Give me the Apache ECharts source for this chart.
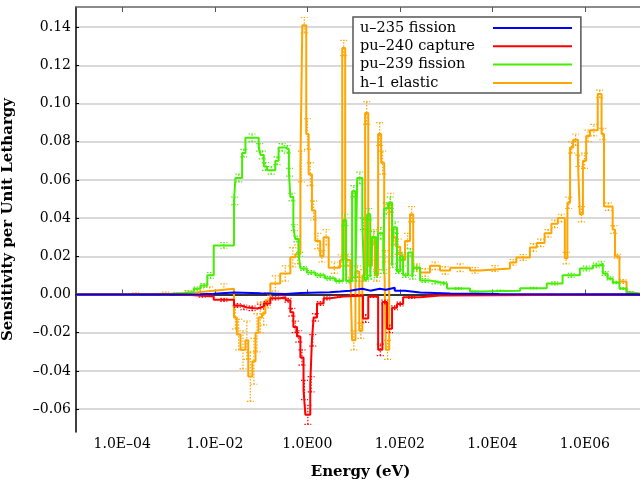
<!DOCTYPE html>
<html>
<head>
<meta charset="utf-8">
<script src="https://cdn.jsdelivr.net/npm/echarts@6/dist/echarts.min.js"></script>
<style>
  html, body { margin: 0; padding: 0; background: #fff; }
  #chart { width: 640px; height: 481px; }
</style>
</head>
<body>
<div id="chart"></div>
<script>
// tick positions
const xTicks = [1e-4, 1e-2, 1, 1e2, 1e4, 1e6];
const yTicks = [-0.06, -0.04, -0.02, 0, 0.02, 0.04, 0.06, 0.08, 0.10, 0.12, 0.14];

// group lower bounds (eV) and sensitivity per unit lethargy
const blueE = [1e-5, 4.1e-4, 4.9e-3, 0.0095, 0.026, 0.098, 0.34, 0.71, 3.1, 5.1,
  8.5, 11, 15.5, 23, 37, 50, 78, 130, 275, 1230, 14000, 1.07e7, 2e7];
const blueS = [0, 0.0001, 0.0004, 0.001, 0.0006, 0.0003, 0.0008, 0.0012, 0.0015, 0.002,
  0.0025, 0.003, 0.002, 0.003, 0.0025, 0.0035, 0.002, 0.001, 0.0005, 0.0002, 0.0001, 0, 0];

const redE = [1e-5, 1.1e-3, 3.0e-3, 0.0095, 0.026, 0.036, 0.050, 0.082, 0.115, 0.159,
  0.26, 0.34, 0.43, 0.50, 0.60, 0.71, 0.83, 0.91, 1.16, 1.26,
  1.37, 1.62, 2.25, 3.1, 6.6, 16, 20.8, 34, 42, 53,
  68, 87, 118, 275, 740, 2e7];
const redS = [0, -0.0003, -0.001, -0.0028, -0.0058, -0.0068, -0.0073, -0.0063, -0.0047, -0.002,
  -0.0014, -0.003, -0.0093, -0.017, -0.022, -0.033, -0.050, -0.063, -0.047, -0.024,
  -0.012, -0.0047, -0.002, -0.001, -0.0005, -0.0126, -0.001, -0.029, -0.004, -0.018,
  -0.007, -0.005, -0.0015, -0.0005, 0, 0];
const redErr = [0, 0.0002, 0.0004, 0.0008, 0.001, 0.0012, 0.0012, 0.0012, 0.001, 0.0008,
  0.0008, 0.001, 0.002, 0.003, 0.003, 0.004, 0.005, 0.005, 0.004, 0.003,
  0.002, 0.001, 0.0008, 0.0005, 0.0003, 0.002, 0.0005, 0.003, 0.001, 0.002,
  0.001, 0.001, 0.0005, 0.0003, 0, 0];

const greenE = [1e-5, 4.1e-4, 1.1e-3, 2.1e-3, 3.5e-3, 4.9e-3, 6.9e-3, 0.0095, 0.026, 0.028,
  0.039, 0.046, 0.089, 0.098, 0.115, 0.135, 0.204, 0.24, 0.34, 0.40,
  0.43, 0.50, 0.55, 0.65, 0.71, 0.98, 1.5, 2.4, 4.0, 6.0,
  6.9, 9.3, 11, 12, 15.5, 17, 19.7, 23, 25, 31,
  34, 44, 46, 56, 68, 72, 87, 102, 118, 151,
  186, 195, 275, 450, 740, 1050, 3300, 5400, 40000, 1.5e5,
  3.3e5, 7.8e5, 1.48e6, 2.1e6, 2.45e6, 3.1e6, 4.0e6, 5.6e6, 8.0e6, 1.07e7, 2e7];
const greenS = [0, 0.0003, 0.0006, 0.0012, 0.003, 0.0047, 0.010, 0.0257, 0.049, 0.061,
  0.074, 0.082, 0.077, 0.073, 0.067, 0.065, 0.070, 0.077, 0.076, 0.064,
  0.051, 0.035, 0.029, 0.021, 0.0136, 0.0115, 0.010, 0.0085, 0.007, 0.039,
  0.007, 0.054, 0.008, 0.061, 0.037, 0.008, 0.042, 0.009, 0.030, 0.010,
  0.032, 0.012, 0.045, 0.048, 0.015, 0.035, 0.012, 0.020, 0.010, 0.022,
  0.009, 0.014, 0.0073, 0.0063, 0.0058, 0.0031, 0.0016, 0.002, 0.0033, 0.0058,
  0.010, 0.0136, 0.0152, 0.0162, 0.011, 0.0084, 0.0063, 0.0031, 0.001, 0, 0];
const greenErr = [0, 0.0002, 0.0003, 0.0005, 0.0008, 0.001, 0.0015, 0.0015, 0.002, 0.002,
  0.002, 0.002, 0.002, 0.002, 0.002, 0.002, 0.002, 0.002, 0.002, 0.002,
  0.002, 0.0015, 0.0015, 0.001, 0.001, 0.001, 0.001, 0.001, 0.001, 0.003,
  0.001, 0.003, 0.001, 0.003, 0.003, 0.001, 0.003, 0.001, 0.003, 0.001,
  0.003, 0.001, 0.003, 0.003, 0.001, 0.003, 0.001, 0.002, 0.001, 0.002,
  0.001, 0.001, 0.001, 0.0008, 0.0008, 0.0005, 0.0003, 0.0003, 0.0004, 0.0008,
  0.001, 0.0012, 0.0012, 0.0012, 0.001, 0.0008, 0.0006, 0.0004, 0.0002, 0, 0];

const orangeE = [1e-5, 9.3e-5, 4.1e-4, 1.8e-3, 3.8e-3, 6.3e-3, 0.0095, 0.026, 0.030, 0.036,
  0.046, 0.053, 0.065, 0.076, 0.088, 0.105, 0.124, 0.159, 0.26, 0.43,
  0.55, 0.71, 0.78, 0.95, 1.07, 1.26, 1.49, 1.9, 2.25, 2.9,
  5.1, 5.7, 6.6, 8.5, 9.3, 11, 13.3, 15.5, 17.8, 20.8,
  25, 29, 34, 39.5, 46, 50, 59, 68, 83, 102,
  130, 166, 195, 275, 450, 740, 1230, 3300, 5400, 24000,
  33000, 65000, 91000, 1.35e5, 1.9e5, 2.6e5, 3.7e5, 4.2e5, 4.8e5, 5.6e5,
  7.1e5, 7.8e5, 9.1e5, 1.07e6, 1.29e6, 1.9e6, 2.3e6, 2.6e6, 4.0e6, 4.5e6,
  5.6e6, 8.0e6, 1.07e7, 2e7];
const orangeS = [0, 0.0003, 0.0005, 0.001, 0.0015, 0.002, 0.003, -0.012, -0.021, -0.029,
  -0.024, -0.043, -0.035, -0.020, -0.012, -0.010, -0.003, 0.0057, 0.011, 0.0195,
  0.021, 0.067, 0.141, 0.084, 0.063, 0.044, 0.028, 0.020, 0.030, 0.014,
  0.0178, 0.129, 0.018, 0.012, -0.024, 0.012, -0.019, 0.010, 0.095, 0.015,
  0.030, 0.010, 0.084, 0.069, 0.020, -0.029, 0.048, 0.030, 0.025, 0.018,
  0.028, 0.042, 0.014, 0.0115, 0.015, 0.0126, 0.014, 0.0126, 0.0136, 0.0168,
  0.0194, 0.0246, 0.027, 0.032, 0.037, 0.040, 0.019, 0.048, 0.077, 0.081,
  0.070, 0.042, 0.070, 0.083, 0.086, 0.105, 0.084, 0.046, 0.034, 0.020,
  0.0068, 0.001, 0, 0];
const orangeErr = [0, 0.0005, 0.0008, 0.001, 0.0015, 0.002, 0.0025, 0.006, 0.008, 0.010,
  0.010, 0.013, 0.012, 0.010, 0.008, 0.006, 0.004, 0.004, 0.004, 0.005,
  0.005, 0.008, 0.004, 0.008, 0.006, 0.005, 0.004, 0.003, 0.004, 0.003,
  0.003, 0.004, 0.003, 0.003, 0.005, 0.003, 0.004, 0.003, 0.006, 0.003,
  0.004, 0.003, 0.006, 0.006, 0.003, 0.005, 0.005, 0.004, 0.004, 0.003,
  0.004, 0.004, 0.002, 0.002, 0.002, 0.002, 0.002, 0.0015, 0.0015, 0.0015,
  0.0015, 0.002, 0.002, 0.002, 0.002, 0.002, 0.003, 0.003, 0.003, 0.003,
  0.003, 0.004, 0.004, 0.003, 0.003, 0.002, 0.003, 0.002, 0.002, 0.001,
  0.001, 0.0005, 0, 0];

const FONT = 'DejaVu Serif';
const COLORS = { u235: '#0000ff', pu240: '#ff0000', pu239: '#44ee00', h1: '#ffa500' };
const NAMES = ['u\u2013235 fission', 'pu\u2013240 capture', 'pu\u2013239 fission', 'h\u20131 elastic'];

const chart = echarts.init(document.getElementById('chart'));

// pair group bounds with values for a stepped line
const stepData = (E, S) => E.map((e, i) => [e, S[i]]);

// error bars drawn at the geometric centre of each group
const errData = (E, S, err) => {
  const out = [];
  for (let i = 0; i < E.length - 1; i++) {
    if (err[i] > 0) out.push([Math.sqrt(E[i] * E[i + 1]), S[i] - err[i], S[i] + err[i]]);
  }
  return out;
};

const lineSeries = (name, E, S, color, z) => ({
  name, type: 'line', step: 'end', data: stepData(E, S),
  showSymbol: false, symbol: 'none', z,
  lineStyle: { color, width: 2 }, itemStyle: { color },
  animation: false
});

const errSeries = (E, S, err, color, z) => ({
  type: 'custom', data: errData(E, S, err), z, silent: true, animation: false,
  itemStyle: { color },
  renderItem: (params, api) => {
    const x = api.value(0);
    const lo = api.coord([x, api.value(1)]);
    const hi = api.coord([x, api.value(2)]);
    const st = { stroke: color, lineWidth: 1.2, lineDash: [1.5, 1.5] };
    return {
      type: 'group',
      children: [
        { type: 'line', shape: { x1: lo[0], y1: lo[1], x2: hi[0], y2: hi[1] }, style: st },
        { type: 'line', shape: { x1: lo[0] - 3.5, y1: lo[1], x2: lo[0] + 3.5, y2: lo[1] }, style: st },
        { type: 'line', shape: { x1: hi[0] - 3.5, y1: hi[1], x2: hi[0] + 3.5, y2: hi[1] }, style: st }
      ]
    };
  }
});

const expLabel = (v) => {
  const p = Math.round(Math.log10(v));
  return '1.0E' + (p < 0 ? '\u2013' : '') + String(Math.abs(p)).padStart(2, '0');
};

const option = {
  animation: false,
  grid: { left: 76, right: -5, top: 7, bottom: 49, containLabel: false, outerBoundsMode: 'none' },
  legend: [
    {
      // text column with the frame
      data: NAMES, left: 353, top: 17, orient: 'vertical',
      itemWidth: 0, itemHeight: 0, itemGap: 0.3, selectedMode: false,
      padding: [2, 106, 1, 1],
      backgroundColor: '#fff', borderColor: '#555', borderWidth: 1.5,
      textStyle: { fontFamily: FONT, fontSize: 14.5, color: '#000', lineHeight: 18 }
    },
    {
      // line samples on the right
      data: NAMES, left: 493, top: 19, orient: 'vertical', icon: 'rect',
      itemWidth: 79, itemHeight: 2, itemGap: 0.3, selectedMode: false,
      padding: 0, formatter: () => ' ',
      textStyle: { fontFamily: FONT, fontSize: 14.5, lineHeight: 18 }
    }
  ],
  xAxis: [
    {
      type: 'log', min: 1e-5, max: 2e7, logBase: 10,
      name: 'Energy (eV)', nameLocation: 'middle', nameGap: 33,
      nameTextStyle: { fontFamily: FONT, fontSize: 15, fontWeight: 'bold', color: '#000' },
      axisLine: { lineStyle: { color: '#000', width: 1.5 } },
      axisTick: { inside: true, length: 5, customValues: xTicks, lineStyle: { color: '#555' } },
      axisLabel: { customValues: xTicks, formatter: expLabel, margin: 5,
        fontFamily: FONT, fontSize: 14, color: '#000' },
      splitLine: { show: false }, minorTick: { show: false }
    },
    {
      type: 'log', min: 1e-5, max: 2e7, logBase: 10, position: 'top',
      axisLine: { lineStyle: { color: '#666', width: 1.5 } },
      axisTick: { inside: true, length: 5, customValues: xTicks, lineStyle: { color: '#555' } },
      axisLabel: { show: false }, splitLine: { show: false }
    }
  ],
  yAxis: {
    type: 'value', min: -0.072, max: 0.1505,
    name: 'Sensitivity per Unit Lethargy', nameLocation: 'middle', nameGap: 60,
    nameTextStyle: { fontFamily: FONT, fontSize: 15, fontWeight: 'bold', color: '#000' },
    axisLine: { show: true, lineStyle: { color: '#000', width: 1.5 } },
    axisTick: { show: true, inside: true, length: 3, customValues: yTicks, lineStyle: { color: '#000' } },
    axisLabel: { customValues: yTicks, margin: 5, fontFamily: FONT, fontSize: 14, color: '#000',
      formatter: (v) => v.toFixed(2).replace('-', '\u2013') },
    splitLine: { show: true, lineStyle: { color: '#cccccc', width: 1.5 } }
  },
  series: [
    errSeries(orangeE, orangeS, orangeErr, COLORS.h1, 2),
    lineSeries(NAMES[3], orangeE, orangeS, COLORS.h1, 3),
    errSeries(greenE, greenS, greenErr, COLORS.pu239, 4),
    lineSeries(NAMES[2], greenE, greenS, COLORS.pu239, 5),
    errSeries(redE, redS, redErr, COLORS.pu240, 6),
    lineSeries(NAMES[1], redE, redS, COLORS.pu240, 7),
    lineSeries(NAMES[0], blueE, blueS, COLORS.u235, 8)
  ]
};

chart.setOption(option);
</script>
</body>
</html>
